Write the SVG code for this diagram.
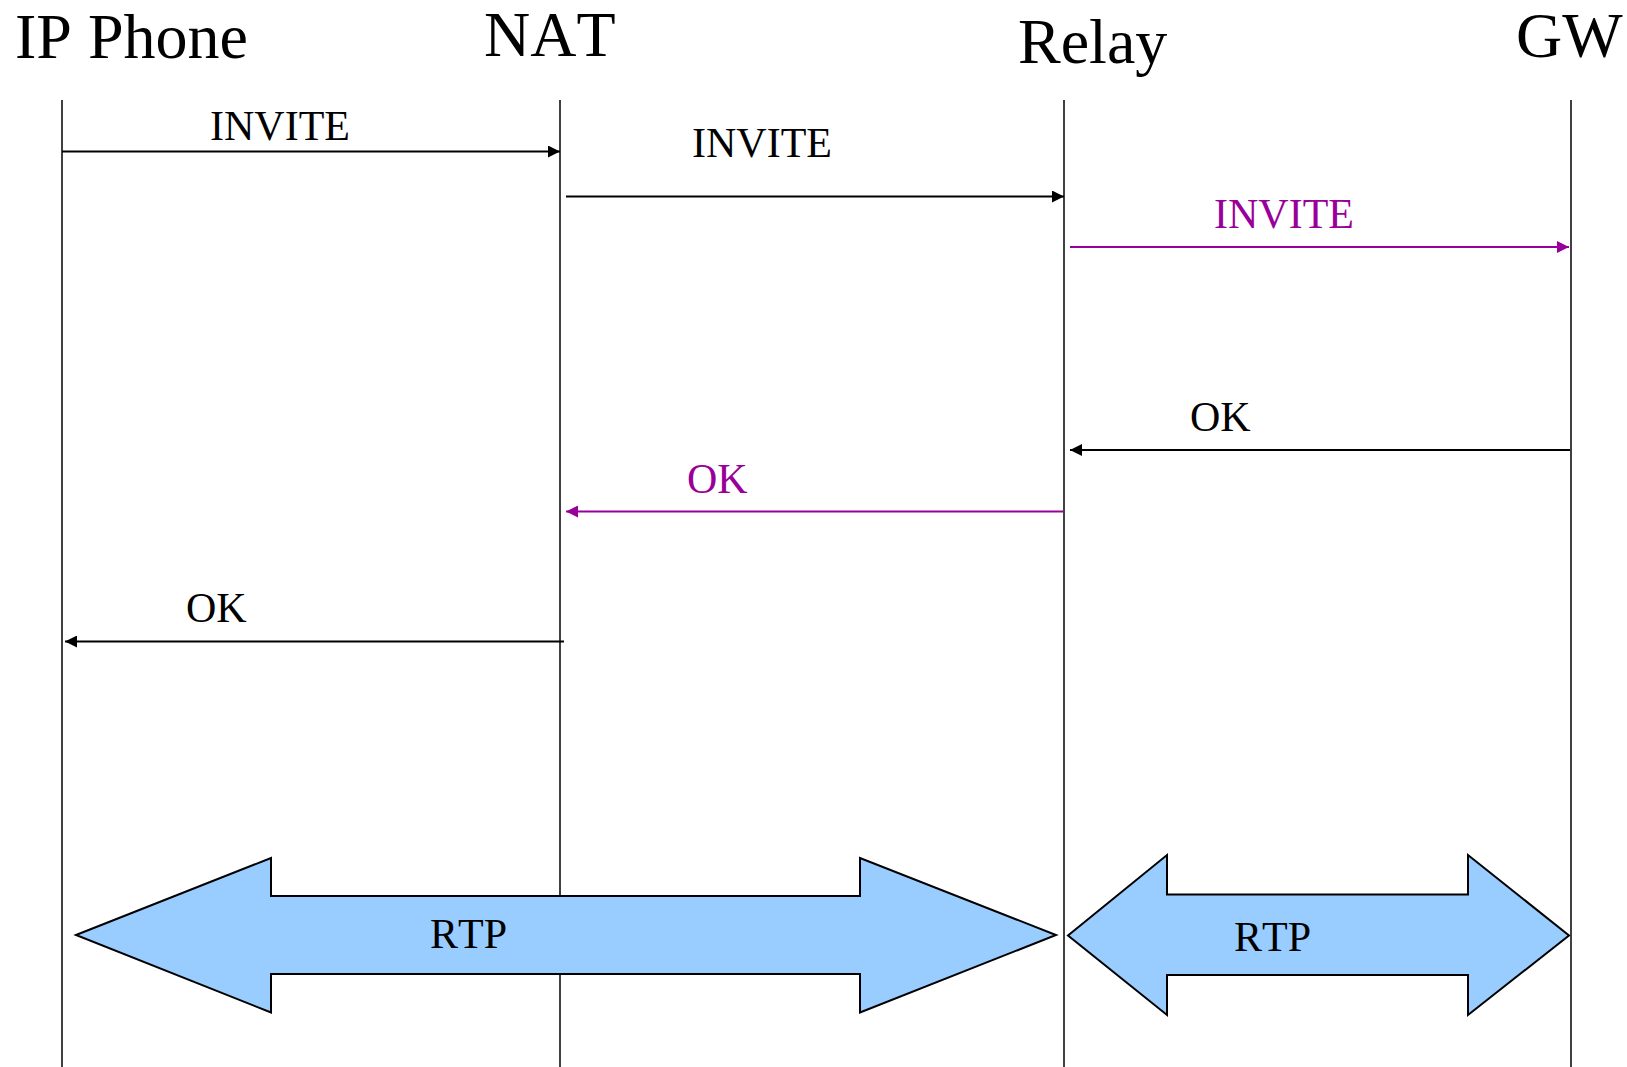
<svg xmlns="http://www.w3.org/2000/svg" width="1627" height="1067" viewBox="0 0 1627 1067">
  <style>
    text { font-kerning: none; }
    .head { font-family: "Liberation Serif", "Times New Roman", serif; font-size: 64px; fill: #000; }
    .lbl { font-family: "Liberation Serif", "Times New Roman", serif; font-size: 42px; fill: #000; }
    .lbl.mag { fill: #990099; }
    .life { stroke: #000; stroke-width: 1.5; fill: none; }
    .msg { stroke: #000; stroke-width: 2; fill: none; }
    .msg.mag { stroke: #990099; }
    .rtp { fill: #99CCFF; stroke: #000; stroke-width: 2; stroke-linejoin: miter; }
  </style>
  <defs>
    <marker id="ah" viewBox="0 0 12 12" refX="12" refY="6" markerWidth="12" markerHeight="12" markerUnits="userSpaceOnUse" orient="auto">
      <path d="M0,0 L12,6 L0,12 Z" fill="#000"/>
    </marker>
    <marker id="ahMag" viewBox="0 0 12 12" refX="12" refY="6" markerWidth="12" markerHeight="12" markerUnits="userSpaceOnUse" orient="auto">
      <path d="M0,0 L12,6 L0,12 Z" fill="#990099"/>
    </marker>
  </defs>

  <rect width="1627" height="1067" fill="#fff"/>

  <!-- participants with their lifelines -->
  <g id="ip-phone">
    <text class="head" x="15" y="58">IP Phone</text>
    <line class="life" x1="62" y1="100" x2="62" y2="1067"/>
  </g>
  <g id="nat">
    <text class="head" x="484" y="56">NAT</text>
    <line class="life" x1="560" y1="100" x2="560" y2="1067"/>
  </g>
  <g id="relay">
    <text class="head" x="1018" y="63">Relay</text>
    <line class="life" x1="1064" y1="100" x2="1064" y2="1067"/>
  </g>
  <g id="gw">
    <text class="head" x="1516" y="57">GW</text>
    <line class="life" x1="1571" y1="100" x2="1571" y2="1067"/>
  </g>

  <!-- signalling messages -->
  <g id="connectors">
    <line class="msg" x1="62" y1="151.5" x2="560" y2="151.5" marker-end="url(#ah)"/>
    <text class="lbl" x="210" y="140">INVITE</text>

    <line class="msg" x1="566" y1="196.5" x2="1064" y2="196.5" marker-end="url(#ah)"/>
    <text class="lbl" x="692" y="157">INVITE</text>

    <line class="msg mag" x1="1070" y1="247" x2="1569" y2="247" marker-end="url(#ahMag)"/>
    <text class="lbl mag" x="1214" y="228">INVITE</text>

    <line class="msg" x1="1570" y1="450" x2="1070" y2="450" marker-end="url(#ah)"/>
    <text class="lbl" x="1190" y="431">OK</text>

    <line class="msg mag" x1="1063" y1="511.5" x2="566" y2="511.5" marker-end="url(#ahMag)"/>
    <text class="lbl mag" x="687" y="493">OK</text>

    <line class="msg" x1="564" y1="641.5" x2="65" y2="641.5" marker-end="url(#ah)"/>
    <text class="lbl" x="186" y="622">OK</text>
  </g>

  <!-- media streams -->
  <g id="rtp-phone-relay">
    <polygon class="rtp" points="76,935 271,858 271,896 860,896 860,858 1056,935 860,1012.5 860,974 271,974 271,1012.5"/>
    <text class="lbl" x="430" y="948" font-size="43">RTP</text>
  </g>
  <g id="rtp-relay-gw">
    <polygon class="rtp" points="1068,935.5 1167,855 1167,894.5 1468,894.5 1468,855 1569,935.5 1468,1015 1468,975 1167,975 1167,1015"/>
    <text class="lbl" x="1234" y="951" font-size="43">RTP</text>
  </g>
</svg>
